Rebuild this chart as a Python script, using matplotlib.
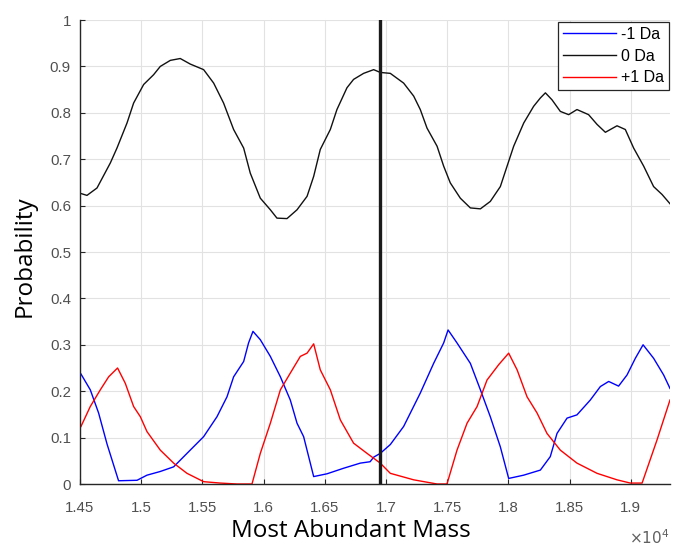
import matplotlib
matplotlib.use("Agg")
import matplotlib.pyplot as plt

# data (mass in Da, probability)
mass_0 = [14508, 14557, 14639, 14748, 14802, 14884, 14938, 15020, 15101, 15156,
          15238, 15319, 15401, 15510, 15592, 15673, 15755, 15837, 15891, 15973,
          16055, 16109, 16191, 16273, 16355, 16409, 16463, 16545, 16599, 16681,
          16735, 16817, 16899, 16953, 17035, 17144, 17226, 17280, 17335, 17417,
          17471, 17525, 17607, 17689, 17771, 17852, 17934, 17989, 18043, 18125,
          18206, 18261, 18302, 18356, 18424, 18492, 18560, 18655, 18724, 18792,
          18887, 18955, 19023, 19105, 19186, 19255, 19320]
prob_0 = [0.626, 0.622, 0.638, 0.692, 0.724, 0.778, 0.821, 0.861, 0.882, 0.900,
          0.913, 0.917, 0.905, 0.893, 0.864, 0.821, 0.764, 0.724, 0.670, 0.616,
          0.591, 0.573, 0.572, 0.591, 0.620, 0.663, 0.721, 0.764, 0.807, 0.854,
          0.872, 0.885, 0.893, 0.887, 0.885, 0.864, 0.836, 0.807, 0.767, 0.728,
          0.685, 0.649, 0.616, 0.595, 0.593, 0.609, 0.641, 0.685, 0.728, 0.778,
          0.814, 0.832, 0.843, 0.828, 0.803, 0.796, 0.807, 0.796, 0.775, 0.758,
          0.772, 0.764, 0.724, 0.685, 0.641, 0.624, 0.604]

mass_m1 = [14508, 14584, 14652, 14721, 14815, 14966, 15047, 15156, 15265, 15374,
           15510, 15619, 15701, 15755, 15837, 15877, 15913, 15973, 16055, 16137,
           16218, 16273, 16327, 16409, 16518, 16654, 16790, 16870, 16900, 16953,
           17035, 17144, 17280, 17389, 17471, 17507, 17580, 17689, 17771, 17852,
           17934, 18002, 18124, 18261, 18342, 18397, 18479, 18560, 18669, 18751,
           18819, 18900, 18969, 19037, 19100, 19186, 19268, 19320]
prob_m1 = [0.237, 0.203, 0.153, 0.086, 0.007, 0.008, 0.019, 0.027, 0.037, 0.066,
           0.102, 0.145, 0.188, 0.231, 0.264, 0.304, 0.329, 0.311, 0.275, 0.231,
           0.181, 0.131, 0.102, 0.016, 0.022, 0.034, 0.045, 0.048, 0.058, 0.066,
           0.085, 0.124, 0.196, 0.260, 0.304, 0.332, 0.304, 0.260, 0.203, 0.145,
           0.080, 0.012, 0.019, 0.030, 0.059, 0.109, 0.142, 0.149, 0.181, 0.210,
           0.221, 0.211, 0.235, 0.271, 0.300, 0.271, 0.235, 0.206]

mass_p1 = [14508, 14584, 14666, 14734, 14807, 14870, 14938, 14993, 15047, 15156,
           15265, 15374, 15510, 15646, 15783, 15905, 15973, 16055, 16137, 16218,
           16300, 16355, 16409, 16463, 16545, 16627, 16735, 16845, 16953, 17035,
           17226, 17417, 17498, 17580, 17662, 17744, 17825, 17920, 18002, 18071,
           18152, 18234, 18315, 18424, 18560, 18724, 18887, 18996, 19092, 19214,
           19320]
prob_p1 = [0.124, 0.167, 0.203, 0.231, 0.250, 0.217, 0.167, 0.145, 0.113, 0.073,
           0.045, 0.023, 0.005, 0.002, 0.000, 0.000, 0.066, 0.131, 0.203, 0.239,
           0.275, 0.282, 0.302, 0.246, 0.203, 0.138, 0.088, 0.066, 0.045, 0.023,
           0.009, 0.000, 0.000, 0.073, 0.131, 0.167, 0.224, 0.257, 0.282, 0.246,
           0.188, 0.153, 0.109, 0.073, 0.045, 0.023, 0.009, 0.002, 0.002, 0.095,
           0.181]

marker_mass = 16953
x_ticks = [14500, 15000, 15500, 16000, 16500, 17000, 17500, 18000, 18500, 19000]
x_labels = ['1.45', '1.5', '1.55', '1.6', '1.65', '1.7', '1.75', '1.8', '1.85', '1.9']
y_ticks = [0, 0.1, 0.2, 0.3, 0.4, 0.5, 0.6, 0.7, 0.8, 0.9, 1.0]
y_labels = ['0', '0.1', '0.2', '0.3', '0.4', '0.5', '0.6', '0.7', '0.8', '0.9', '1']

plt.rcParams['font.family'] = ['Liberation Sans', 'DejaVu Sans']
label_font = ['Open Sans', 'DejaVu Sans']

fig = plt.figure(figsize=(6.73, 5.47), dpi=100)
ax = fig.add_axes([80 / 673, 63 / 547, 590 / 673, 464 / 547])

ax.plot(mass_m1, prob_m1, color='#0000ff', lw=1.0, label='-1 Da')
ax.plot(mass_0, prob_0, color='#111111', lw=1.0, label='0 Da')
ax.plot(mass_p1, prob_p1, color='#ff0000', lw=1.0, label='+1 Da')
ax.axvline(marker_mass, color='#1a1a1a', lw=2.4)

ax.set_xlim(14500, 19320)
ax.set_ylim(0, 1)
ax.set_xticks(x_ticks)
ax.set_xticklabels(x_labels)
ax.set_yticks(y_ticks)
ax.set_yticklabels(y_labels)

# matlab-ish look: box off, inward ticks, light grid
ax.spines['top'].set_visible(False)
ax.spines['right'].set_visible(False)
for s in ['left', 'bottom']:
    ax.spines[s].set_color('#262626')
    ax.spines[s].set_linewidth(1.0)
ax.tick_params(direction='in', length=3.5, width=0.8, color='#262626',
               labelsize=10.8, labelcolor='#505050')
ax.tick_params(axis='x', pad=12)
ax.tick_params(axis='y', pad=6.5)
ax.grid(True, color='#e2e2e2', lw=0.8)
ax.set_axisbelow(True)

ax.set_xlabel('Most Abundant Mass', fontsize=17.5, family=label_font, color='k')
ax.xaxis.set_label_coords(0.4585, -0.076)
ax.set_ylabel('Probability', fontsize=17.5, family=label_font, color='k')
ax.yaxis.set_label_coords(-0.073, 0.491)

fig.text(669 / 673, 0.0, r'$\times10^4$', ha='right', va='bottom',
         fontsize=11, color='#606060')

leg = ax.legend(loc='upper right', bbox_to_anchor=(0.998, 0.996), borderaxespad=0,
                fancybox=False, framealpha=1, edgecolor='#262626', fontsize=11.5,
                handlelength=3.3, handletextpad=0.3, labelspacing=0.42,
                borderpad=0.32)
leg.get_frame().set_linewidth(0.9)

fig.savefig('out.png', dpi=100)
